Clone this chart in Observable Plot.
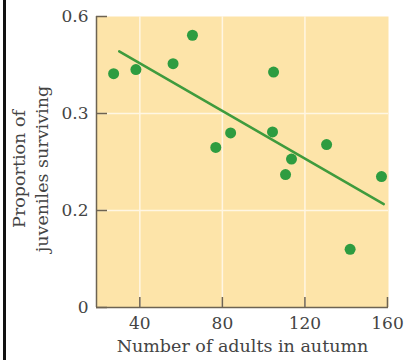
<!DOCTYPE html>
<html><head><meta charset="utf-8">
<script src="https://cdn.jsdelivr.net/npm/d3@7"></script>
<script src="https://cdn.jsdelivr.net/npm/@observablehq/plot@0.6"></script>
<style>
html,body{margin:0;padding:0;background:#fff;}
#wrap{position:relative;width:404px;height:360px;overflow:hidden;background:#fff;}
#chart{position:absolute;left:0;top:0;}
#border{position:absolute;left:3px;top:0;width:3px;height:360px;background:#111;}
</style></head><body>
<div id="wrap"><div id="chart"></div><div id="border"></div></div>
<script>
// Data
const adults   = [27.3, 38.1, 56.1, 65.5, 104.8, 84.0, 76.8, 104.3, 113.5, 110.6, 130.5, 157.1, 141.9];
const survival = [0.423, 0.436, 0.454, 0.542, 0.428, 0.280, 0.265, 0.281, 0.253, 0.237, 0.268, 0.235, 0.120];
const fitAdults   = [30, 158.2];
const fitSurvival = [0.492, 0.2065];
const xTicks = [40, 80, 120, 160];
const yTicks = [0, 0.2, 0.3, 0.6];
const xDomain = [19, 160.5];
const xTitle = "Number of adults in autumn";
const yTitle = "Proportion of\njuveniles surviving";

const points = adults.map((a, i) => ({adults: a, survival: survival[i]}));
const fit = fitAdults.map((a, i) => ({adults: a, survival: fitSurvival[i]}));

// The original axis spaces its labelled ticks evenly (piecewise scale)
const piece = d3.scaleLinear().domain(yTicks).range(yTicks.map((_, i) => i));

const W = 404, H = 360, mL = 96, mR = 16, mT = 16, mB = 53;
const frameW = W - mL - mR, frameH = H - mT - mB;
const axisColor = "#6d6352";
const textColor = "#444";

const chart = Plot.plot({
  width: W, height: H,
  marginLeft: mL, marginRight: mR, marginTop: mT, marginBottom: mB,
  style: {fontFamily: "'DejaVu Serif', serif", fontSize: "17px", color: textColor, background: "transparent", overflow: "visible"},
  x: {domain: xDomain},
  y: {domain: [0, yTicks.length - 1], transform: piece},
  marks: [
    Plot.frame({fill: "#fde4a9", stroke: null}),
    Plot.gridX(xTicks.filter(t => t < 150), {stroke: "#fff6e3", strokeOpacity: 1, strokeWidth: 1.5}),
    Plot.gridY(yTicks.filter(t => t > 0 && t < 0.6), {stroke: "#fff6e3", strokeOpacity: 1, strokeWidth: 1.5}),
    Plot.line(fit, {x: "adults", y: "survival", stroke: "#3f9b3d", strokeWidth: 2.5}),
    Plot.dot(points, {x: "adults", y: "survival", r: 5.5, fill: "#2e9c40", stroke: null}),
    Plot.ruleY([yTicks[0]], {stroke: axisColor, strokeWidth: 1.5}),
    Plot.ruleX([xDomain[0]], {stroke: axisColor, strokeWidth: 1.5}),
    Plot.tickX(xTicks, {x: d => d, stroke: axisColor, strokeWidth: 1.5, insetTop: frameH - 10}),
    Plot.tickY(yTicks, {y: d => d, stroke: axisColor, strokeWidth: 1.5, insetRight: frameW - 11}),
    Plot.axisX(xTicks, {tickSize: 0, tickPadding: 9, fill: textColor, label: null, fontSize: 17}),
    Plot.axisY(yTicks, {tickSize: 0, tickPadding: 8, fill: textColor, label: null, fontSize: 17, tickFormat: d => String(d)}),
    Plot.text([xTitle], {frameAnchor: "bottom", dy: 44, fontSize: 17.5, fill: textColor}),
    Plot.text([yTitle], {frameAnchor: "left", textAnchor: "middle", rotate: -90, dx: -67, dy: 7, fontSize: 17.5, lineHeight: 1.3, fill: textColor})
  ]
});
document.getElementById("chart").appendChild(chart);
</script>
</body></html>
